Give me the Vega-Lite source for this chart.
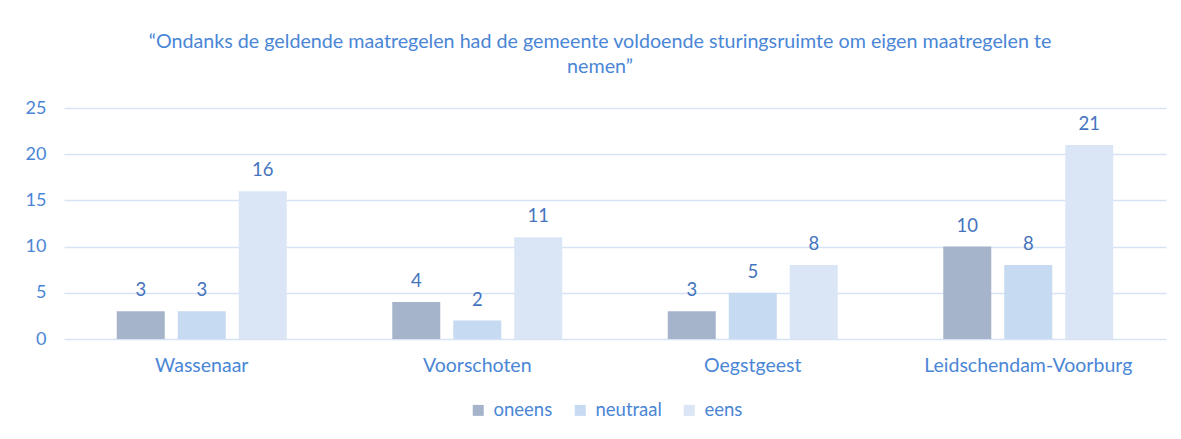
{
  "$schema": "https://vega.github.io/schema/vega-lite/v6.json",
  "width": 1102,
  "height": 231,
  "autosize": "none",
  "padding": {"left": 64, "top": 108, "right": 15, "bottom": 100},
  "background": "white",
  "title": {
    "text": ["“Ondanks de geldende maatregelen had de gemeente voldoende sturingsruimte om eigen maatregelen te", "nemen”"],
    "anchor": "middle",
    "dx": -15,
    "offset": 22,
    "font": "Lato",
    "fontSize": 19.7,
    "fontWeight": "normal",
    "color": "#4A86D6",
    "lineHeight": 25
  },
  "data": {
    "values": [
      {"gemeente": "Wassenaar", "antwoord": "oneens", "aantal": 3},
      {"gemeente": "Wassenaar", "antwoord": "neutraal", "aantal": 3},
      {"gemeente": "Wassenaar", "antwoord": "eens", "aantal": 16},
      {"gemeente": "Voorschoten", "antwoord": "oneens", "aantal": 4},
      {"gemeente": "Voorschoten", "antwoord": "neutraal", "aantal": 2},
      {"gemeente": "Voorschoten", "antwoord": "eens", "aantal": 11},
      {"gemeente": "Oegstgeest", "antwoord": "oneens", "aantal": 3},
      {"gemeente": "Oegstgeest", "antwoord": "neutraal", "aantal": 5},
      {"gemeente": "Oegstgeest", "antwoord": "eens", "aantal": 8},
      {"gemeente": "Leidschendam-Voorburg", "antwoord": "oneens", "aantal": 10},
      {"gemeente": "Leidschendam-Voorburg", "antwoord": "neutraal", "aantal": 8},
      {"gemeente": "Leidschendam-Voorburg", "antwoord": "eens", "aantal": 21}
    ]
  },
  "encoding": {
    "x": {
      "field": "gemeente",
      "type": "nominal",
      "sort": ["Wassenaar", "Voorschoten", "Oegstgeest", "Leidschendam-Voorburg"],
      "scale": {"paddingInner": 0.383, "paddingOuter": 0.1915},
      "axis": {
        "title": null,
        "labelAngle": 0,
        "ticks": false,
        "domain": false,
        "labelPadding": 17,
        "labelLimit": 0,
        "labelFont": "Lato",
        "labelFontSize": 19.5,
        "labelColor": "#4A86D6"
      }
    },
    "xOffset": {
      "field": "antwoord",
      "type": "nominal",
      "sort": ["oneens", "neutraal", "eens"],
      "scale": {"paddingInner": 0.213, "paddingOuter": 0}
    },
    "y": {
      "field": "aantal",
      "type": "quantitative",
      "scale": {"domain": [0, 25]},
      "axis": {
        "title": null,
        "values": [0, 5, 10, 15, 20, 25],
        "ticks": false,
        "domain": false,
        "labelPadding": 18,
        "labelFont": "Lato",
        "labelFontSize": 18,
        "labelColor": "#4A86D6",
        "gridColor": "#D6E3F4",
        "gridWidth": 1.5,
        "gridOpacity": 1
      }
    }
  },
  "layer": [
    {
      "mark": {"type": "bar"},
      "encoding": {
        "color": {
          "field": "antwoord",
          "type": "nominal",
          "sort": ["oneens", "neutraal", "eens"],
          "scale": {"domain": ["oneens", "neutraal", "eens"], "range": ["#A5B4CB", "#C6DAF1", "#DAE6F6"]},
          "legend": {
            "title": null,
            "orient": "none",
            "legendX": 405,
            "legendY": 293,
            "padding": 0,
            "direction": "horizontal",
            "symbolType": "square",
            "symbolSize": 121,
            "symbolStrokeWidth": 0,
            "labelFont": "Lato",
            "labelFontSize": 18.5,
            "labelColor": "#4A86D6",
            "columnPadding": 18,
            "labelOffset": 6
          }
        }
      }
    },
    {
      "mark": {"type": "text", "dy": -15, "font": "Lato", "fontSize": 18.5, "color": "#4574BE", "baseline": "alphabetic"},
      "encoding": {
        "text": {"field": "aantal", "type": "quantitative"}
      }
    }
  ],
  "config": {
    "view": {"stroke": null}
  }
}
